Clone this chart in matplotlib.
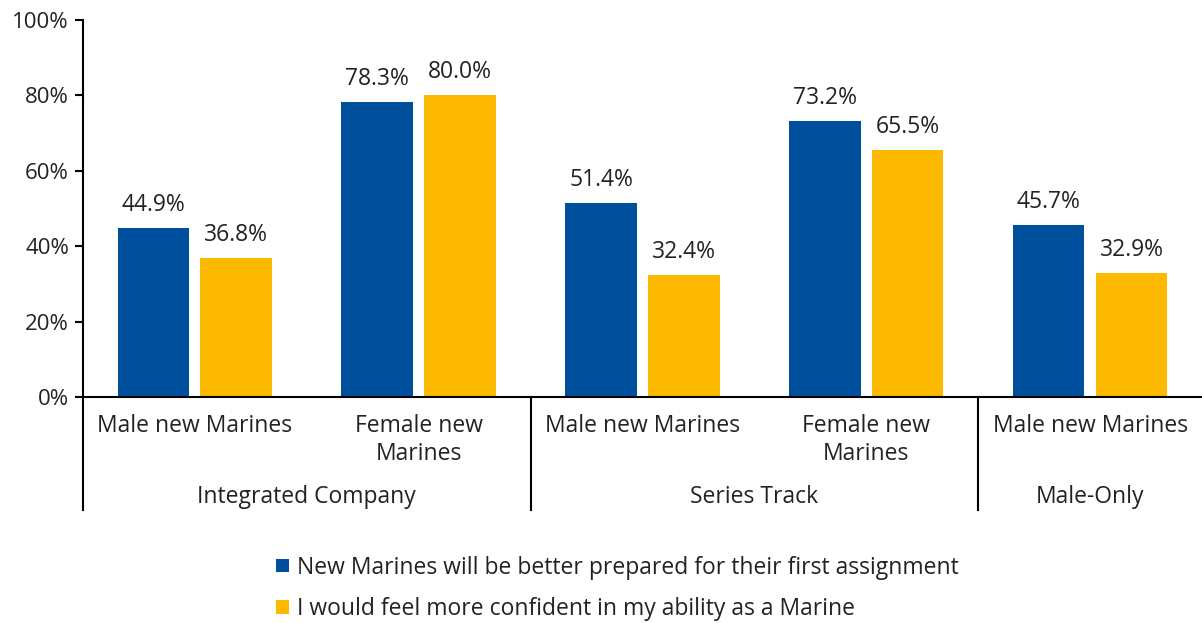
import matplotlib.pyplot as plt
import numpy as np

plt.rcParams['font.family'] = ['Open Sans', 'DejaVu Sans']

categories = ["Male new Marines", "Female new\nMarines", "Male new Marines", "Female new\nMarines", "Male new Marines"]
groups = ["Integrated Company", "Series Track", "Male-Only"]
groupSpans = [(0, 1), (2, 3), (4, 4)]
prepared = [44.9, 78.3, 51.4, 73.2, 45.7]
confident = [36.8, 80.0, 32.4, 65.5, 32.9]
seriesNames = ["New Marines will be better prepared for their first assignment",
               "I would feel more confident in my ability as a Marine"]

blue = "#00509E"
yellow = "#FDB800"
textColor = "#222222"
fs = 16.5

fig = plt.figure(figsize=(12.02, 6.23), dpi=100)
ax = fig.add_axes([0.069, 0.3628, 0.931, 0.6052])

x = np.arange(len(categories))
barWidth = 0.32
off = 0.185
b1 = ax.bar(x - off, prepared, barWidth, color=blue, label=seriesNames[0])
b2 = ax.bar(x + off, confident, barWidth, color=yellow, label=seriesNames[1])

for bars, vals in ((b1, prepared), (b2, confident)):
    for bar, v in zip(bars, vals):
        ax.annotate("%.1f%%" % v, (bar.get_x() + bar.get_width() / 2, v),
                    xytext=(0, 8), textcoords="offset points",
                    ha="center", va="bottom", fontsize=fs, color=textColor)

ax.set_ylim(0, 100)
ax.set_xlim(-0.5, len(categories) - 0.5)
ax.set_yticks(np.arange(0, 101, 20))
ax.set_yticklabels(["%d%%" % t for t in range(0, 101, 20)], fontsize=16, color=textColor)
ax.tick_params(axis="y", length=6, width=1.5, direction="out", pad=4)
ax.set_xticks(x)
ax.set_xticklabels(categories, fontsize=fs, color=textColor, linespacing=1.25, va="top")
ax.tick_params(axis="x", length=0, pad=12)

for s in ("top", "right"):
    ax.spines[s].set_visible(False)
ax.spines["left"].set_linewidth(1.5)
ax.spines["bottom"].set_linewidth(1.5)

# group separators and labels below the axis
trans = ax.get_xaxis_transform()
for sep in (-0.5, 1.5, 3.5):
    ax.plot([sep, sep], [0, -0.30], color="black", lw=1.5, transform=trans, clip_on=False)
for name, (a, b) in zip(groups, groupSpans):
    ax.text((a + b) / 2, -0.265, name, transform=trans, ha="center", va="center",
            fontsize=fs, color=textColor)

fig.legend(handles=[b1, b2], labels=seriesNames, loc="upper left",
           bbox_to_anchor=(0.222, 0.123), frameon=False, fontsize=fs,
           handlelength=0.55, handleheight=0.55, handletextpad=0.35,
           labelspacing=0.75, borderaxespad=0, labelcolor=textColor)

plt.savefig("out.png", dpi=100)
plt.close()
